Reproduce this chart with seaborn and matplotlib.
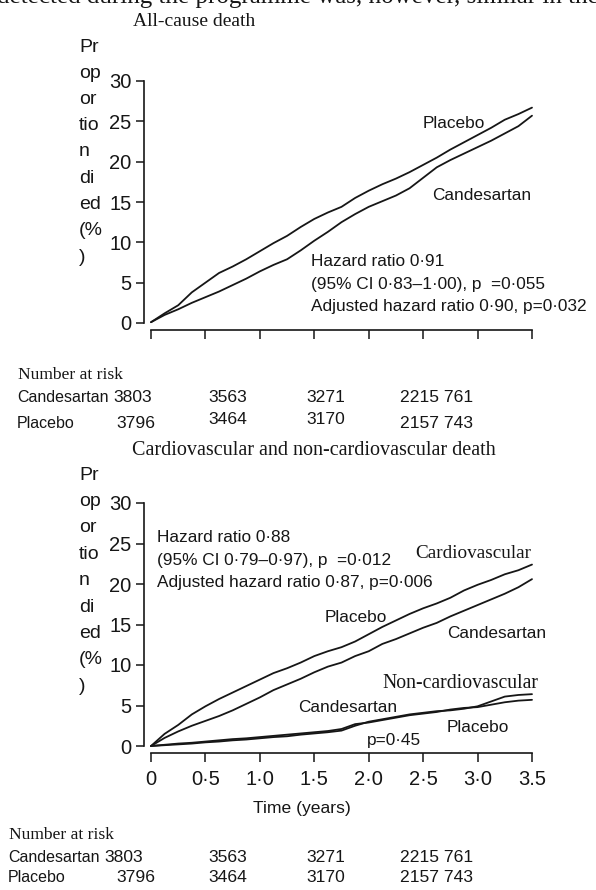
import matplotlib
matplotlib.use("Agg")
import matplotlib.pyplot as plt
import pandas as pd
import seaborn as sns

sns.set_theme(style="white")
SANS = ["Liberation Sans", "DejaVu Sans"]
SERIF = ["Liberation Serif", "DejaVu Serif"]
plt.rcParams["font.family"] = SANS

# ---- data -------------------------------------------------------------
years = [0, 0.125, 0.25, 0.375, 0.5, 0.625, 0.75, 0.875, 1.0, 1.125, 1.25,
         1.375, 1.5, 1.625, 1.75, 1.875, 2.0, 2.125, 2.25, 2.375, 2.5,
         2.625, 2.75, 2.875, 3.0, 3.125, 3.25, 3.375, 3.5]

# all-cause death, cumulative % died
allcause_placebo = [0.1, 1.2, 2.2, 3.8, 5.0, 6.2, 7.0, 7.9, 8.9, 9.9, 10.8,
                    11.9, 12.9, 13.7, 14.4, 15.5, 16.4, 17.2, 17.9, 18.7, 19.6,
                    20.5, 21.5, 22.4, 23.3, 24.2, 25.2, 25.9, 26.7]
allcause_candesartan = [0.1, 1.0, 1.7, 2.5, 3.2, 3.9, 4.7, 5.5, 6.4, 7.2, 7.9,
                        9.0, 10.2, 11.3, 12.5, 13.5, 14.4, 15.1, 15.8, 16.7, 18.0,
                        19.3, 20.2, 21.0, 21.8, 22.6, 23.5, 24.4, 25.7]

# cardiovascular death
cv_placebo = [0.0, 1.5, 2.6, 3.9, 4.9, 5.8, 6.6, 7.4, 8.2, 9.0, 9.6,
              10.3, 11.1, 11.7, 12.2, 12.9, 13.8, 14.7, 15.5, 16.3, 17.0,
              17.6, 18.3, 19.2, 19.9, 20.5, 21.2, 21.7, 22.4]
cv_candesartan = [0.0, 1.0, 1.8, 2.5, 3.1, 3.7, 4.4, 5.2, 6.0, 6.9, 7.6,
                  8.3, 9.1, 9.8, 10.3, 11.1, 11.7, 12.6, 13.2, 13.9, 14.6,
                  15.2, 16.0, 16.7, 17.4, 18.1, 18.8, 19.6, 20.6]

# non-cardiovascular death
noncv_candesartan = [0.0, 0.1, 0.2, 0.3, 0.45, 0.55, 0.7, 0.8, 0.95, 1.1, 1.2,
                     1.4, 1.55, 1.7, 1.9, 2.5, 3.0, 3.3, 3.6, 3.9, 4.1,
                     4.3, 4.4, 4.6, 4.9, 5.5, 6.1, 6.3, 6.4]
noncv_placebo = [0.0, 0.15, 0.3, 0.4, 0.55, 0.7, 0.85, 0.95, 1.1, 1.25, 1.4,
                 1.55, 1.7, 1.85, 2.1, 2.7, 2.9, 3.2, 3.5, 3.8, 4.0,
                 4.2, 4.5, 4.7, 4.8, 5.1, 5.4, 5.6, 5.7]

x_ticks = [0, 0.5, 1.0, 1.5, 2.0, 2.5, 3.0, 3.5]
x_tick_labels = ["0", "0·5", "1·0", "1·5", "2·0", "2·5", "3·0", "3.5"]
y_ticks = [0, 5, 10, 15, 20, 25, 30]
ylabel_parts = ["Pr", "op", "or", "tio", "n", "di", "ed", "(%", ")"]

risk_arms = ["Candesartan", "Placebo"]
risk_candesartan = [3803, 3563, 3271, 2215, 761]
risk_placebo = [3796, 3464, 3170, 2157, 743]


def long_frame(t, series):
    rows = []
    for arm, vals in series.items():
        for ti, v in zip(t, vals):
            rows.append({"years": ti, "pct": v, "arm": arm})
    return pd.DataFrame(rows)


df_all = long_frame(years, {"Placebo": allcause_placebo,
                            "Candesartan": allcause_candesartan})
df_cv = long_frame(years, {"Placebo": cv_placebo,
                           "Candesartan": cv_candesartan})
df_ncv = long_frame(years, {"Placebo": noncv_placebo,
                            "Candesartan": noncv_candesartan})

# ---- figure -----------------------------------------------------------
W, H = 596, 890
fig = plt.figure(figsize=(W / 100, H / 100), dpi=100)
INK = "#161616"


def px_axes(left, top, right, bottom):
    return fig.add_axes([left / W, 1 - bottom / H, (right - left) / W,
                         (bottom - top) / H])


def ftext(x, y, s, **kw):
    kw.setdefault("va", "center")
    kw.setdefault("ha", "left")
    kw.setdefault("color", INK)
    fig.text(x / W, 1 - y / H, s, **kw)


def style_axes(ax, show_xlabels):
    ax.set_xlim(0, 3.5)
    ax.set_ylim(0, 30)
    ax.set_facecolor("none")
    for side in ("top", "right"):
        ax.spines[side].set_visible(False)
    for side in ("left", "bottom"):
        ax.spines[side].set_color(INK)
        ax.spines[side].set_linewidth(1.2)
        ax.spines[side].set_position(("outward", 5))
    ax.set_xticks(x_ticks)
    ax.set_yticks(y_ticks)
    ax.set_yticklabels([str(v) for v in y_ticks])
    if show_xlabels:
        ax.set_xticklabels(x_tick_labels)
    else:
        ax.set_xticklabels([])
    ax.tick_params(axis="y", direction="out", length=5.5, width=1.1,
                   pad=3.5, labelsize=14.5, colors=INK, left=True)
    ax.tick_params(axis="x", direction="out", length=6.5, width=1.1,
                   pad=6, labelsize=14.5, colors=INK, bottom=True)
    ax.set_xlabel("")
    ax.set_ylabel("")
    ax.grid(False)


# top panel: all-cause death
ax1 = px_axes(151, 81, 532, 323)
sns.lineplot(data=df_all, x="years", y="pct", units="arm", estimator=None,
             color=INK, lw=1.3, legend=False, ax=ax1, clip_on=False)
style_axes(ax1, show_xlabels=False)

# bottom panel: cardiovascular and non-cardiovascular death
ax2 = px_axes(151, 503, 532, 746)
sns.lineplot(data=df_cv, x="years", y="pct", units="arm", estimator=None,
             color=INK, lw=1.3, legend=False, ax=ax2, clip_on=False)
sns.lineplot(data=df_ncv, x="years", y="pct", units="arm", estimator=None,
             color=INK, lw=1.3, legend=False, ax=ax2, clip_on=False)
style_axes(ax2, show_xlabels=True)

# ---- titles and running text -----------------------------------------
# last line of the preceding paragraph, trimmed by the top edge
ftext(-3, 3, "detected during the programme was, however, similar in the",
      family=SERIF, fontsize=18, va="baseline")
ftext(194, 22, "All-cause death", family=SERIF, fontsize=14, ha="center")
ftext(314, 451, "Cardiovascular and non-cardiovascular death", family=SERIF,
      fontsize=14.5, ha="center")

# broken y-axis label
for i, part in enumerate(ylabel_parts):
    ftext(79, 47 + 26.25 * i, part, fontsize=14)
    ftext(79, 475 + 26.4 * i, part, fontsize=14)

LBL = 12.4

# curve labels, top
ftext(423, 123, "Placebo", fontsize=LBL)
ftext(432, 195, "Candesartan", fontsize=LBL)
ftext(311, 262, "Hazard ratio 0·91", fontsize=LBL)
ftext(311, 285, "(95% CI 0·83–1·00), p  =0·055", fontsize=LBL)
ftext(311, 307, "Adjusted hazard ratio 0·90, p=0·032", fontsize=LBL)

# curve labels, bottom
ftext(157, 537, "Hazard ratio 0·88", fontsize=LBL)
ftext(157, 560, "(95% CI 0·79–0·97), p  =0·012", fontsize=LBL)
ftext(157, 582, "Adjusted hazard ratio 0·87, p=0·006", fontsize=LBL)
ftext(415, 553, "Cardiovascular", family=SERIF, fontsize=13.8)
ftext(325, 617, "Placebo", fontsize=LBL)
ftext(447, 633, "Candesartan", fontsize=LBL)
ftext(382, 683, "Non-cardiovascular", family=SERIF, fontsize=14.2)
ftext(298, 707, "Candesartan", fontsize=LBL)
ftext(447, 727, "Placebo", fontsize=LBL)
ftext(367, 740, "p=0·45", fontsize=LBL)

ftext(302, 808, "Time (years)", fontsize=12.6, ha="center")


# ---- number at risk tables -------------------------------------------
def risk_table(x0, y_head, y_c, y_p, y_p_mid, x_first_c):
    ftext(x0 + 1, y_head, "Number at risk", family=SERIF, fontsize=12.6)
    ftext(x0, y_c, risk_arms[0], fontsize=11.5)
    ftext(x_first_c, y_c, str(risk_candesartan[0]), fontsize=12.6)
    ftext(x0, y_p, risk_arms[1], fontsize=11.5)
    ftext(116, y_p, str(risk_placebo[0]), fontsize=12.6)
    cols = [208, 306]
    for x, c, p in zip(cols, risk_candesartan[1:3], risk_placebo[1:3]):
        ftext(x, y_c, str(c), fontsize=12.6)
        ftext(x, y_p_mid, str(p), fontsize=12.6)
    ftext(400, y_c, f"{risk_candesartan[3]} {risk_candesartan[4]}",
          fontsize=12.6)
    ftext(400, y_p, f"{risk_placebo[3]} {risk_placebo[4]}", fontsize=12.6)


risk_table(17, 375, 398, 423, 419, 113)
risk_table(8, 835, 857, 877, 877, 104)

fig.savefig("out.png", dpi=100, facecolor="white")
